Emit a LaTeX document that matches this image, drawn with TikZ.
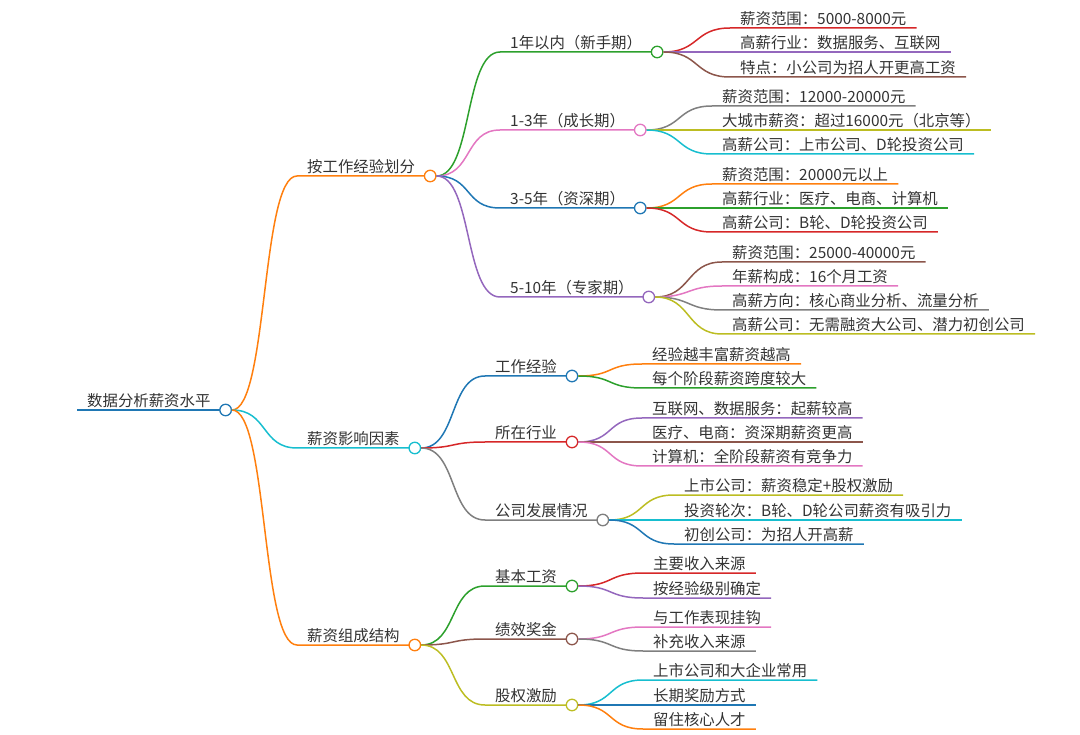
\documentclass[tikz,border=0pt]{standalone}
\usepackage{fontspec}
\setmainfont{Noto Sans CJK SC}
\usepackage{xcolor}
\definecolor{mblue}{HTML}{1F77B4}
\definecolor{morange}{HTML}{FF7F0E}
\definecolor{mgreen}{HTML}{2CA02C}
\definecolor{mred}{HTML}{D62728}
\definecolor{mpurple}{HTML}{9467BD}
\definecolor{mbrown}{HTML}{8C564B}
\definecolor{mpink}{HTML}{E377C2}
\definecolor{mgray}{HTML}{7F7F7F}
\definecolor{molive}{HTML}{BCBD22}
\definecolor{mcyan}{HTML}{17BECF}
\definecolor{txt}{HTML}{333333}
\usepackage{tikz}
\usetikzlibrary{positioning, calc}

\begin{document}
\begin{tikzpicture}[
    x=1pt, y=-1pt,
    topic/.style={anchor=south west, inner xsep=10pt, inner ysep=3.5pt, text depth=0pt, text=txt, font=\fontsize{15.4}{18}\selectfont},
    dot/.style={circle, draw=#1, fill=white, line width=1.3pt, inner sep=0pt, minimum size=11.5pt},
    link/.style={draw=#1, line width=1.5pt},
]
\useasboundingbox (0,0) rectangle (1080,735);

% ==================== ROOT ====================
\node[topic] (root) at (77,410) {数据分析薪资水平};
\draw[link=mblue] (root.south west) -- (root.south east);

% ==================== LEVEL 1 ====================
\node[topic] (exp) at (297,176) {按工作经验划分};
\node[topic] (fac) at (297,448) {薪资影响因素};
\node[topic] (com) at (297,645) {薪资组成结构};

\node[dot=mblue] (rootdot) at ([xshift=5pt]root.south east) {};

\draw[link=morange] (rootdot.east) .. controls +(36,0) and +(-36,0) .. (exp.south west) -- (exp.south east);
\draw[link=mcyan] (rootdot.east) .. controls +(36,0) and +(-36,0) .. (fac.south west) -- (fac.south east);
\draw[link=morange] (rootdot.east) .. controls +(36,0) and +(-36,0) .. (com.south west) -- (com.south east);

\node[dot=morange] (expdot) at ([xshift=5pt]exp.south east) {};
\node[dot=mcyan] (facdot) at ([xshift=5pt]fac.south east) {};
\node[dot=morange] (comdot) at ([xshift=5pt]com.south east) {};

% ==================== LEVEL 2: EXPERIENCE ====================
\node[topic] (y1) at (500,52) {1年以内（新手期）};
\node[topic] (y3) at (500,130) {1-3年（成长期）};
\node[topic] (y5) at (500,208) {3-5年（资深期）};
\node[topic] (y10) at (500,297) {5-10年（专家期）};

\draw[link=mgreen] (expdot.east) .. controls +(36,0) and +(-36,0) .. (y1.south west) -- (y1.south east);
\draw[link=mpink] (expdot.east) .. controls +(36,0) and +(-36,0) .. (y3.south west) -- (y3.south east);
\draw[link=mblue] (expdot.east) .. controls +(36,0) and +(-36,0) .. (y5.south west) -- (y5.south east);
\draw[link=mpurple] (expdot.east) .. controls +(36,0) and +(-36,0) .. (y10.south west) -- (y10.south east);

% ==================== LEVEL 2: FACTORS ====================
\node[topic] (work) at (485,376) {工作经验};
\node[topic] (ind) at (485,442) {所在行业};
\node[topic] (dev) at (485,520) {公司发展情况};

\draw[link=mblue] (facdot.east) .. controls +(36,0) and +(-36,0) .. (work.south west) -- (work.south east);
\draw[link=mred] (facdot.east) .. controls +(36,0) and +(-36,0) .. (ind.south west) -- (ind.south east);
\draw[link=mgray] (facdot.east) .. controls +(36,0) and +(-36,0) .. (dev.south west) -- (dev.south east);

% ==================== LEVEL 2: STRUCTURE ====================
\node[topic] (base) at (485,586) {基本工资};
\node[topic] (bonus) at (485,639) {绩效奖金};
\node[topic] (stock) at (485,705) {股权激励};

\draw[link=mgreen] (comdot.east) .. controls +(36,0) and +(-36,0) .. (base.south west) -- (base.south east);
\draw[link=mbrown] (comdot.east) .. controls +(36,0) and +(-36,0) .. (bonus.south west) -- (bonus.south east);
\draw[link=molive] (comdot.east) .. controls +(36,0) and +(-36,0) .. (stock.south west) -- (stock.south east);

\node[dot=mgreen] (y1dot) at ([xshift=5pt]y1.south east) {};
\node[dot=mpink] (y3dot) at ([xshift=5pt]y3.south east) {};
\node[dot=mblue] (y5dot) at ([xshift=5pt]y5.south east) {};
\node[dot=mpurple] (y10dot) at ([xshift=5pt]y10.south east) {};
\node[dot=mblue] (workdot) at ([xshift=5pt]work.south east) {};
\node[dot=mred] (inddot) at ([xshift=5pt]ind.south east) {};
\node[dot=mgray] (devdot) at ([xshift=5pt]dev.south east) {};
\node[dot=mgreen] (basedot) at ([xshift=5pt]base.south east) {};
\node[dot=mbrown] (bonusdot) at ([xshift=5pt]bonus.south east) {};
\node[dot=molive] (stockdot) at ([xshift=5pt]stock.south east) {};

% ==================== LEVEL 3: LEAVES ====================
% 1年以内
\node[topic] (y1a) at (730,28) {薪资范围：5000-8000元};
\node[topic] (y1b) at (730,52) {高薪行业：数据服务、互联网};
\node[topic] (y1c) at (730,77) {特点：小公司为招人开更高工资};
% 1-3年
\node[topic] (y3a) at (712,106) {薪资范围：12000-20000元};
\node[topic] (y3b) at (712,130) {大城市薪资：超过16000元（北京等）};
\node[topic] (y3c) at (712,154) {高薪公司：上市公司、D轮投资公司};
% 3-5年
\node[topic] (y5a) at (712,184) {薪资范围：20000元以上};
\node[topic] (y5b) at (712,208) {高薪行业：医疗、电商、计算机};
\node[topic] (y5c) at (712,232) {高薪公司：B轮、D轮投资公司};
% 5-10年
\node[topic] (y10a) at (722,262) {薪资范围：25000-40000元};
\node[topic] (y10b) at (722,286) {年薪构成：16个月工资};
\node[topic] (y10c) at (722,310) {高薪方向：核心商业分析、流量分析};
\node[topic] (y10d) at (722,334) {高薪公司：无需融资大公司、潜力初创公司};
% 工作经验
\node[topic] (worka) at (642,364) {经验越丰富薪资越高};
\node[topic] (workb) at (642,388) {每个阶段薪资跨度较大};
% 所在行业
\node[topic] (inda) at (642,418) {互联网、数据服务：起薪较高};
\node[topic] (indb) at (642,442) {医疗、电商：资深期薪资更高};
\node[topic] (indc) at (642,466) {计算机：全阶段薪资有竞争力};
% 公司发展情况
\node[topic] (deva) at (674,495) {上市公司：薪资稳定+股权激励};
\node[topic] (devb) at (674,520) {投资轮次：B轮、D轮公司薪资有吸引力};
\node[topic] (devc) at (674,544) {初创公司：为招人开高薪};
% 基本工资
\node[topic] (basea) at (643,573) {主要收入来源};
\node[topic] (baseb) at (643,598) {按经验级别确定};
% 绩效奖金
\node[topic] (bonusa) at (643,627) {与工作表现挂钩};
\node[topic] (bonusb) at (643,651) {补充收入来源};
% 股权激励
\node[topic] (stocka) at (643,680) {上市公司和大企业常用};
\node[topic] (stockb) at (643,705) {长期奖励方式};
\node[topic] (stockc) at (643,729) {留住核心人才};

\draw[link=mred] (y1dot.east) .. controls +(36,0) and +(-36,0) .. (y1a.south west) -- (y1a.south east);
\draw[link=mpurple] (y1dot.east) .. controls +(36,0) and +(-36,0) .. (y1b.south west) -- (y1b.south east);
\draw[link=mbrown] (y1dot.east) .. controls +(36,0) and +(-36,0) .. (y1c.south west) -- (y1c.south east);

\draw[link=mgray] (y3dot.east) .. controls +(36,0) and +(-36,0) .. (y3a.south west) -- (y3a.south east);
\draw[link=molive] (y3dot.east) .. controls +(36,0) and +(-36,0) .. (y3b.south west) -- (y3b.south east);
\draw[link=mcyan] (y3dot.east) .. controls +(36,0) and +(-36,0) .. (y3c.south west) -- (y3c.south east);

\draw[link=morange] (y5dot.east) .. controls +(36,0) and +(-36,0) .. (y5a.south west) -- (y5a.south east);
\draw[link=mgreen] (y5dot.east) .. controls +(36,0) and +(-36,0) .. (y5b.south west) -- (y5b.south east);
\draw[link=mred] (y5dot.east) .. controls +(36,0) and +(-36,0) .. (y5c.south west) -- (y5c.south east);

\draw[link=mbrown] (y10dot.east) .. controls +(36,0) and +(-36,0) .. (y10a.south west) -- (y10a.south east);
\draw[link=mpink] (y10dot.east) .. controls +(36,0) and +(-36,0) .. (y10b.south west) -- (y10b.south east);
\draw[link=mgray] (y10dot.east) .. controls +(36,0) and +(-36,0) .. (y10c.south west) -- (y10c.south east);
\draw[link=molive] (y10dot.east) .. controls +(36,0) and +(-36,0) .. (y10d.south west) -- (y10d.south east);

\draw[link=morange] (workdot.east) .. controls +(36,0) and +(-36,0) .. (worka.south west) -- (worka.south east);
\draw[link=mgreen] (workdot.east) .. controls +(36,0) and +(-36,0) .. (workb.south west) -- (workb.south east);

\draw[link=mpurple] (inddot.east) .. controls +(36,0) and +(-36,0) .. (inda.south west) -- (inda.south east);
\draw[link=mbrown] (inddot.east) .. controls +(36,0) and +(-36,0) .. (indb.south west) -- (indb.south east);
\draw[link=mpink] (inddot.east) .. controls +(36,0) and +(-36,0) .. (indc.south west) -- (indc.south east);

\draw[link=molive] (devdot.east) .. controls +(36,0) and +(-36,0) .. (deva.south west) -- (deva.south east);
\draw[link=mcyan] (devdot.east) .. controls +(36,0) and +(-36,0) .. (devb.south west) -- (devb.south east);
\draw[link=mblue] (devdot.east) .. controls +(36,0) and +(-36,0) .. (devc.south west) -- (devc.south east);

\draw[link=mred] (basedot.east) .. controls +(36,0) and +(-36,0) .. (basea.south west) -- (basea.south east);
\draw[link=mpurple] (basedot.east) .. controls +(36,0) and +(-36,0) .. (baseb.south west) -- (baseb.south east);

\draw[link=mpink] (bonusdot.east) .. controls +(36,0) and +(-36,0) .. (bonusa.south west) -- (bonusa.south east);
\draw[link=mgray] (bonusdot.east) .. controls +(36,0) and +(-36,0) .. (bonusb.south west) -- (bonusb.south east);

\draw[link=mcyan] (stockdot.east) .. controls +(36,0) and +(-36,0) .. (stocka.south west) -- (stocka.south east);
\draw[link=mblue] (stockdot.east) .. controls +(36,0) and +(-36,0) .. (stockb.south west) -- (stockb.south east);
\draw[link=morange] (stockdot.east) .. controls +(36,0) and +(-36,0) .. (stockc.south west) -- (stockc.south east);

\end{tikzpicture}
\end{document}
